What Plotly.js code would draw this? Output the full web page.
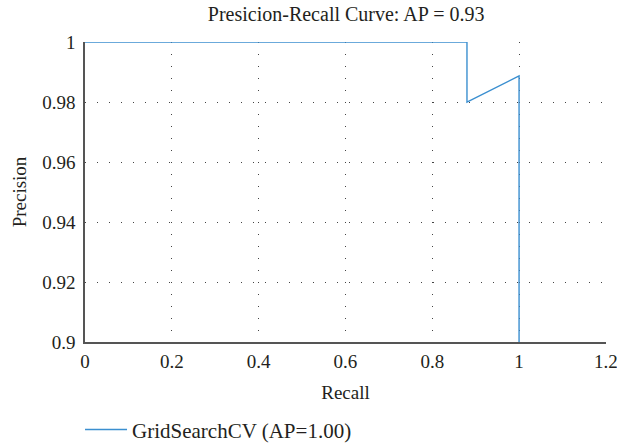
<!DOCTYPE html>
<html>
<head>
<meta charset="utf-8">
<script src="https://cdn.plot.ly/plotly-3.0.1.min.js"></script>
<style>html,body{margin:0;padding:0;background:#fff;}#chart{width:617px;height:445px;}</style>
</head>
<body>
<div id="chart"></div>
<script>
var recall = [0, 0.88, 0.88, 1.0, 1.0];
var precision = [1.0, 1.0, 0.98, 0.9887, 0.5];
var seriesName = 'GridSearchCV (AP=1.00)';
var chartTitle = 'Presicion-Recall Curve: AP = 0.93';
var xTicks = [0, 0.2, 0.4, 0.6, 0.8, 1, 1.2];
var xTickText = ['0', '0.2', '0.4', '0.6', '0.8', '1', '1.2'];
var yTicks = [0.9, 0.92, 0.94, 0.96, 0.98, 1];
var yTickText = ['0.9', '0.92', '0.94', '0.96', '0.98', '1'];

var font = 'Liberation Serif';
var trace = {
  x: recall, y: precision, type: 'scatter', mode: 'lines',
  name: seriesName,
  line: {color: '#3b8fd0', width: 1.4},
  showlegend: true
};
var layout = {
  width: 617, height: 445,
  margin: {l: 85, r: 11, t: 42, b: 103, autoexpand: false},
  paper_bgcolor: '#fff', plot_bgcolor: '#fff',
  font: {family: font, size: 19, color: '#231f20'},
  title: {text: chartTitle, x: 0.561, xanchor: 'center', y: 0.985, yanchor: 'top', font: {family: font, size: 20, color: '#231f20'}},
  xaxis: {
    range: [0, 1.2003], tickvals: xTicks, ticktext: xTickText,
    showline: true, linecolor: '#555', linewidth: 1.6,
    showgrid: true, gridcolor: '#444', gridwidth: 1, griddash: '1px,11px',
    zeroline: false, ticks: '', ticklen: 0, ticklabelstandoff: 2, ticklabeloverflow: 'allow',
    automargin: false,
    title: {text: 'Recall', font: {family: font, size: 19}, standoff: 14},
    tickfont: {family: font, size: 19}
  },
  yaxis: {
    range: [0.9, 1.00003], tickvals: yTicks, ticktext: yTickText,
    showline: true, linecolor: '#555', linewidth: 1.6,
    showgrid: true, gridcolor: '#444', gridwidth: 1, griddash: '1px,11px',
    zeroline: false, ticks: '', ticklen: 0, ticklabelstandoff: 4, ticklabeloverflow: 'allow',
    automargin: false,
    title: {text: 'Precision', font: {family: font, size: 19}, standoff: 10},
    tickfont: {family: font, size: 19}
  },
  showlegend: true,
  legend: {orientation: 'h', xref: 'container', yref: 'container', x: 0.1297, xanchor: 'left', y: 0.034, yanchor: 'middle', itemwidth: 42, font: {family: font, size: 21}, bgcolor: 'rgba(0,0,0,0)'}
};
Plotly.newPlot('chart', [trace], layout, {displayModeBar: false, staticPlot: true});
</script>
</body>
</html>
